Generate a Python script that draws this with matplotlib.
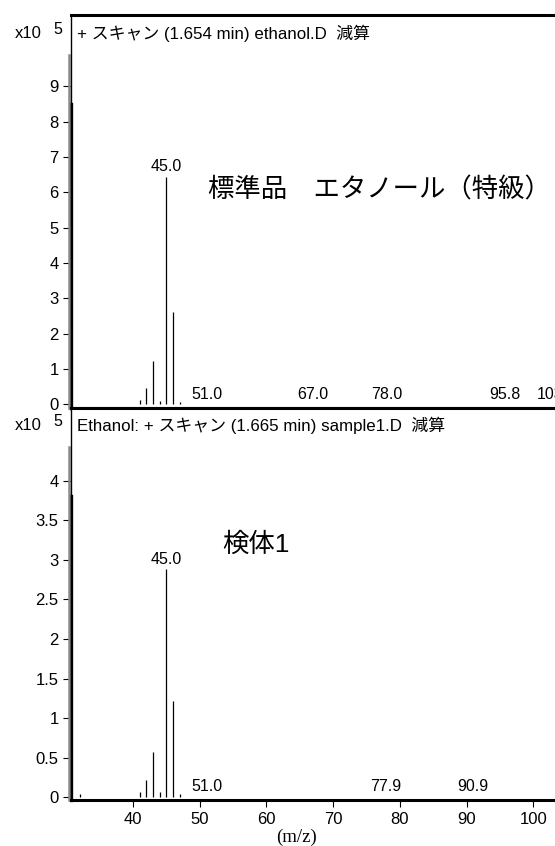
import matplotlib
matplotlib.use("Agg")
import matplotlib.pyplot as plt

plt.rcParams['font.family'] = ['Liberation Sans', 'Noto Sans CJK JP', 'DejaVu Sans']

# m/z and abundance (x10^5)
std_mz = [41, 42, 43, 44, 45, 46, 47]
std_ab = [0.12, 0.45, 1.24, 0.10, 6.43, 2.62, 0.07]
std_lab_mz = [45.0, 51.0, 67.0, 78.0, 95.8, 103.5]
std_lab = ["45.0", "51.0", "67.0", "78.0", "95.8", "103.5"]

smp_mz = [32, 41, 42, 43, 44, 45, 46, 47]
smp_ab = [0.04, 0.06, 0.21, 0.57, 0.06, 2.88, 1.21, 0.04]
smp_lab_mz = [45.0, 51.0, 77.9, 90.9]
smp_lab = ["45.0", "51.0", "77.9", "90.9"]

xticks = [40, 50, 60, 70, 80, 90, 100]
std_yticks = [0, 1, 2, 3, 4, 5, 6, 7, 8, 9]
smp_yticks = [0, 0.5, 1, 1.5, 2, 2.5, 3, 3.5, 4]

XMIN, XMAX = 30.7, 105.5

fig = plt.figure(figsize=(5.55, 8.46), dpi=100)
ax1 = fig.add_axes([0.128, 0.5183, 0.899, 0.4634])
ax2 = fig.add_axes([0.128, 0.0538, 0.899, 0.4645])


def setup(ax, ymin, ymax, yticks, title, mz, ab, lab_mz, lab, big, bigpos):
    ax.vlines(mz, 0, ab, color='k', lw=0.9)
    lookup = dict(zip(mz, ab))
    for m, t in zip(lab_mz, lab):
        h = lookup.get(int(round(m)), 0) if abs(m - round(m)) < 0.01 else 0
        ax.annotate(t, (m, h), xytext=(0, 2), textcoords='offset points',
                    ha='center', va='bottom', fontsize=11.5, clip_on=False)
    ax.set_xlim(XMIN, XMAX)
    ax.set_ylim(ymin, ymax)
    ax.set_yticks(yticks)
    ax.set_yticklabels([('%g' % v) for v in yticks])
    ax.tick_params(axis='y', direction='out', length=6, width=0.8, pad=3, labelsize=12)
    ax.spines['right'].set_visible(False)
    ax.spines['top'].set_linewidth(2.2)
    ax.spines['bottom'].set_linewidth(2.2)
    ax.spines['left'].set_linewidth(1.0)
    ax.axvline(XMIN, ymin=0, ymax=0.775, color='k', lw=2.4, clip_on=False)
    ax.axvline(XMIN - 0.38, ymin=0, ymax=0.9, color='#8a8a8a', lw=1.8, clip_on=False)
    ax.text(0.012, 0.955, title, transform=ax.transAxes, fontsize=12.2,
            ha='left', va='center')
    ax.text(bigpos[0], bigpos[1], big, fontsize=19, ha='left', va='center')
    # x10^5 multiplier
    ax.annotate("x10", (0, 0.955), xycoords='axes fraction', xytext=(-56, 0),
                textcoords='offset pixels', ha='left', va='center', fontsize=12)
    ax.annotate("5", (0, 0.955), xycoords='axes fraction', xytext=(-18, 4),
                textcoords='offset pixels', ha='left', va='center', fontsize=11.5)


setup(ax1, -0.09, 11.01, std_yticks, "+ スキャン (1.654 min) ethanol.D  減算",
      std_mz, std_ab, std_lab_mz, std_lab, "標準品　エタノール（特級）", (51.2, 6.07))
setup(ax2, -0.044, 4.93, smp_yticks, "Ethanol: + スキャン (1.665 min) sample1.D  減算",
      smp_mz, smp_ab, smp_lab_mz, smp_lab, "検体1", (53.3, 3.19))

ax1.set_xticks([])
ax2.set_xticks(xticks)
ax2.tick_params(axis='x', direction='out', length=5, width=0.8, pad=3, labelsize=12)
ax2.set_xlabel("(m/z)", family='Liberation Serif', fontsize=13.5, labelpad=0)
ax2.xaxis.set_label_coords((296 - 71) / 499, -0.072)

fig.savefig("out.png", dpi=100)
